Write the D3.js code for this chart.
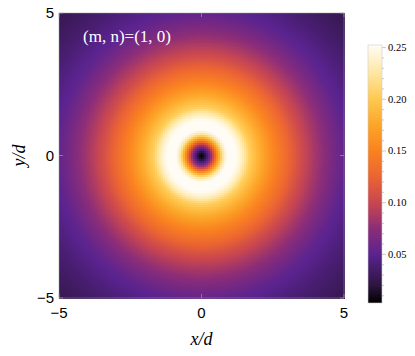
<!DOCTYPE html>
<html>
<head>
<meta charset="utf-8">
<script src="https://cdn.jsdelivr.net/npm/d3@7"></script>
<style>
  body { margin: 0; background: white; }
  svg { display: block; }
</style>
</head>
<body>
<div id="wrapper"></div>
<script>
// radial intensity profile (r in units of d)
const profileR   = [0, 0.15, 0.3, 0.45, 0.6, 0.75, 0.9, 1.05, 1.2, 1.4, 1.7, 2.0, 2.5, 3.0, 3.5, 4.0, 4.5, 5.0, 5.5, 6.0, 6.5, 7.1]
const profileVal = [0, 0.02, 0.06, 0.11, 0.17, 0.22, 0.25, 0.26, 0.255, 0.24, 0.205, 0.185, 0.155, 0.13, 0.105, 0.085, 0.068, 0.054, 0.045, 0.038, 0.032, 0.026]

// colour bar stops
const colorStops  = [0.003, 0.02, 0.05, 0.075, 0.10, 0.125, 0.15, 0.175, 0.20, 0.225, 0.2525]
const colorValues = ["#000000", "#2d1540", "#5a2390", "#8c2d78", "#c84650", "#eb6432", "#fa8220", "#fca528", "#ffc850", "#ffe6a0", "#fffcf5"]

const axisTicks = [-5, 0, 5]
const barTicks = [0.05, 0.10, 0.15, 0.20, 0.25]
const annotation = "(m, n)=(1, 0)"

const dimensions = {
  width: 415,
  height: 356,
  plot: { left: 59, top: 13, size: 285 },
  bar: { left: 368, top: 45, width: 14, bottom: 303 }
}

const wrapper = d3.select("#wrapper")
  .append("svg")
  .attr("width", dimensions.width)
  .attr("height", dimensions.height)

const xScale = d3.scaleLinear()
  .domain([-5, 5])
  .range([dimensions.plot.left, dimensions.plot.left + dimensions.plot.size])

const yScale = d3.scaleLinear()
  .domain([-5, 5])
  .range([dimensions.plot.top + dimensions.plot.size, dimensions.plot.top])

const profile = d3.scaleLinear().domain(profileR).range(profileVal).clamp(true)

const colorScale = d3.scaleLinear()
  .domain(colorStops)
  .range(colorValues)
  .clamp(true)

// density cells
const n = 143
const step = 10 / n
const cells = []
for (let i = 0; i < n; i++) {
  for (let j = 0; j < n; j++) {
    const x = -5 + (i + 0.5) * step
    const y = -5 + (j + 0.5) * step
    cells.push({ i, j, v: profile(Math.sqrt(x * x + y * y)) })
  }
}

const cellW = dimensions.plot.size / n
wrapper.append("g")
  .attr("shape-rendering", "crispEdges")
  .selectAll("rect")
  .data(cells)
  .enter().append("rect")
  .attr("x", d => xScale(-5 + d.i * step))
  .attr("y", d => yScale(-5 + (d.j + 1) * step))
  .attr("width", cellW + 0.6)
  .attr("height", cellW + 0.6)
  .attr("fill", d => colorScale(d.v))

// frame
wrapper.append("rect")
  .attr("x", xScale(-5))
  .attr("y", yScale(5))
  .attr("width", dimensions.plot.size)
  .attr("height", dimensions.plot.size)
  .attr("fill", "none")
  .attr("stroke", "#999")
  .attr("stroke-opacity", 0.6)
  .attr("stroke-width", 0.8)

// ticks on frame
const tickG = wrapper.append("g").attr("stroke", "#aaa").attr("stroke-opacity", 0.6)
axisTicks.forEach(t => {
  tickG.append("line").attr("x1", xScale(t)).attr("x2", xScale(t))
    .attr("y1", yScale(-5)).attr("y2", yScale(-5) - 4)
  tickG.append("line").attr("x1", xScale(t)).attr("x2", xScale(t))
    .attr("y1", yScale(5)).attr("y2", yScale(5) + 4)
  tickG.append("line").attr("y1", yScale(t)).attr("y2", yScale(t))
    .attr("x1", xScale(-5)).attr("x2", xScale(-5) + 4)
  tickG.append("line").attr("y1", yScale(t)).attr("y2", yScale(t))
    .attr("x1", xScale(5)).attr("x2", xScale(5) - 4)
})

const fmt = t => t < 0 ? "\u2212" + Math.abs(t) : String(t)

wrapper.append("g").selectAll("text")
  .data(axisTicks)
  .enter().append("text")
  .attr("x", d => xScale(d))
  .attr("y", 318)
  .attr("text-anchor", "middle")
  .style("font-family", "Liberation Sans, Arial, sans-serif")
  .style("font-size", "15px")
  .text(fmt)

wrapper.append("g").selectAll("text")
  .data(axisTicks)
  .enter().append("text")
  .attr("x", 54)
  .attr("y", d => yScale(d) + 5)
  .attr("text-anchor", "end")
  .style("font-family", "Liberation Sans, Arial, sans-serif")
  .style("font-size", "15px")
  .text(fmt)

// axis labels
wrapper.append("text")
  .attr("x", xScale(0))
  .attr("y", 345)
  .attr("text-anchor", "middle")
  .style("font-family", "Liberation Serif, Times New Roman, serif")
  .style("font-style", "italic")
  .style("font-size", "18px")
  .text("x/d")

wrapper.append("text")
  .attr("transform", `translate(25, ${yScale(0)}) rotate(-90)`)
  .attr("text-anchor", "middle")
  .style("font-family", "Liberation Serif, Times New Roman, serif")
  .style("font-style", "italic")
  .style("font-size", "18px")
  .text("y/d")

wrapper.append("text")
  .attr("x", 83)
  .attr("y", 42)
  .attr("fill", "white")
  .style("font-family", "Liberation Serif, Times New Roman, serif")
  .style("font-size", "17px")
  .text(annotation)

// colour bar
const barScale = d3.scaleLinear()
  .domain([colorStops[0], colorStops[colorStops.length - 1]])
  .range([dimensions.bar.bottom, dimensions.bar.top])

const barLevels = d3.range(dimensions.bar.top, dimensions.bar.bottom)
wrapper.append("g")
  .attr("shape-rendering", "crispEdges")
  .selectAll("rect")
  .data(barLevels)
  .enter().append("rect")
  .attr("x", dimensions.bar.left)
  .attr("y", d => d)
  .attr("width", dimensions.bar.width)
  .attr("height", 1.2)
  .attr("fill", d => colorScale(barScale.invert(d + 0.5)))

wrapper.append("rect")
  .attr("x", dimensions.bar.left)
  .attr("y", dimensions.bar.top)
  .attr("width", dimensions.bar.width)
  .attr("height", dimensions.bar.bottom - dimensions.bar.top)
  .attr("fill", "none")
  .attr("stroke", "#ccc")
  .attr("stroke-width", 0.6)

const barRight = dimensions.bar.left + dimensions.bar.width
const minor = d3.range(0.01, 0.251, 0.01)
wrapper.append("g").selectAll("line")
  .data(minor)
  .enter().append("line")
  .attr("x1", barRight).attr("x2", d => barRight + (Math.abs(d * 20 - Math.round(d * 20)) < 1e-6 ? 4 : 2))
  .attr("y1", d => barScale(d)).attr("y2", d => barScale(d))
  .attr("stroke", "#aaa")
  .attr("stroke-width", 0.6)

wrapper.append("g").selectAll("text")
  .data(barTicks)
  .enter().append("text")
  .attr("x", 388)
  .attr("y", d => barScale(d) + 3.5)
  .style("font-family", "Liberation Serif, Times New Roman, serif")
  .style("font-size", "10.5px")
  .text(d => d3.format(".2f")(d))
</script>
</body>
</html>
